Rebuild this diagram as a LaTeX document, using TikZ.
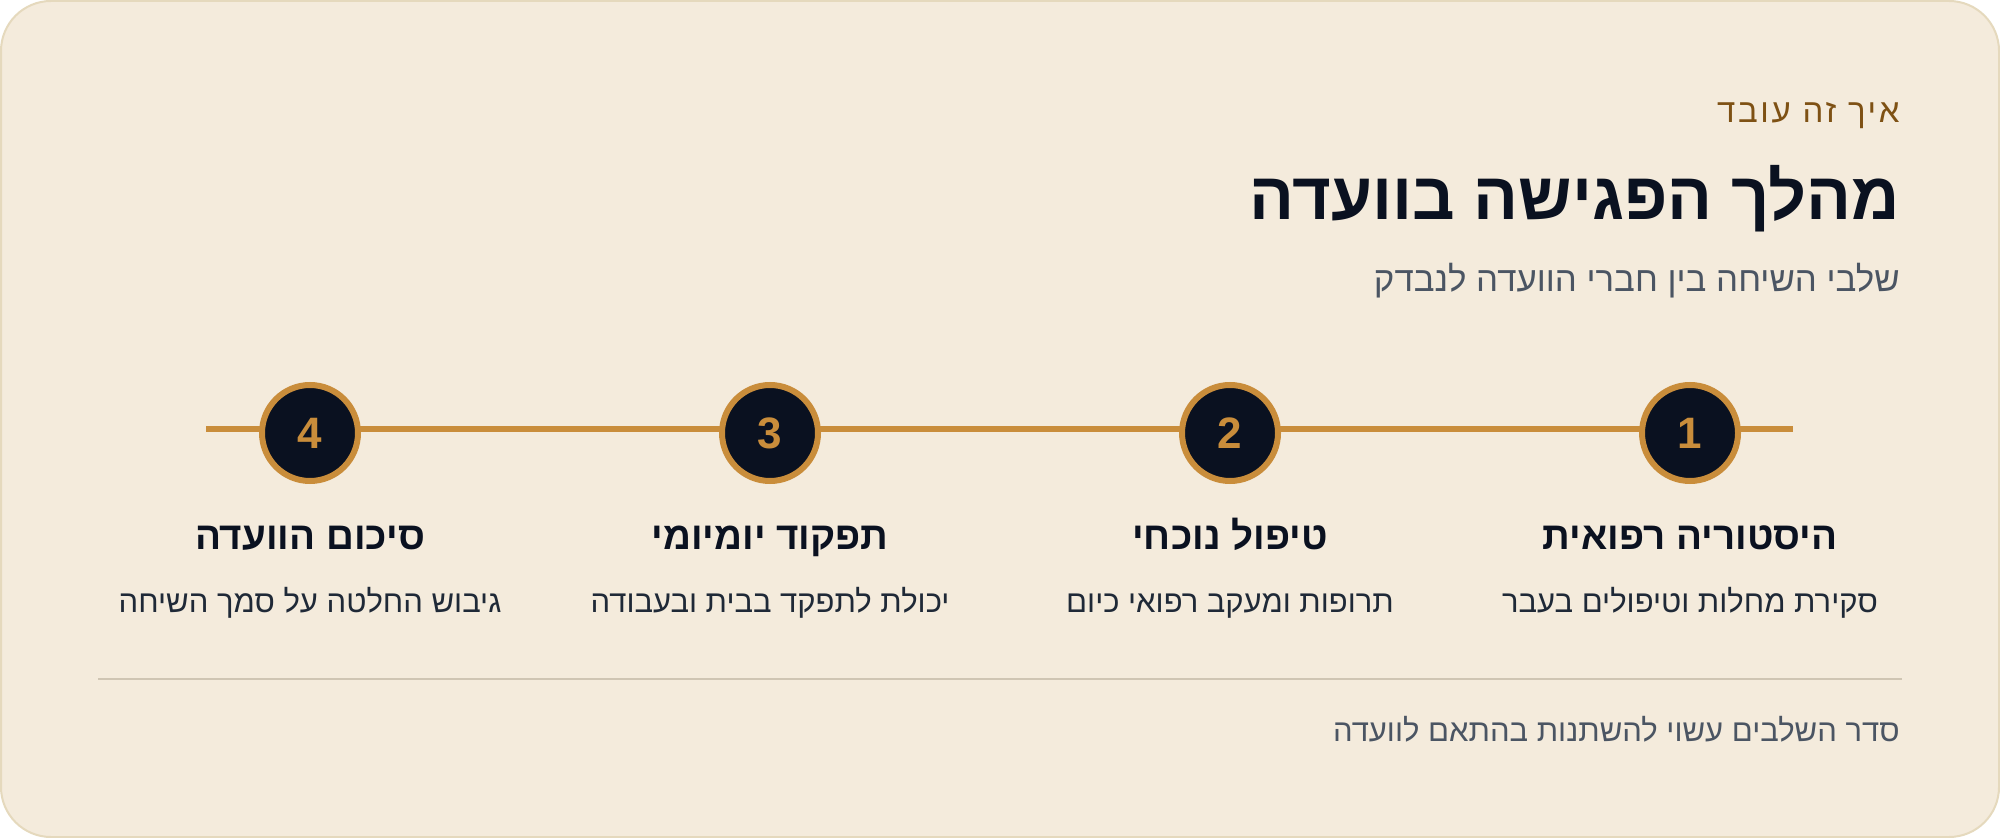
\documentclass[tikz,border=0pt]{standalone}
\usepackage{fontspec}
\setmainfont[Script=Hebrew]{Liberation Sans}
\newfontfamily\hebfont[Script=Hebrew]{Liberation Sans}
\newfontfamily\hebspaced[Script=Hebrew,LetterSpace=8]{Liberation Sans}
\TeXXeTstate=1
\definecolor{cardbg}{HTML}{F4EBDC}
\definecolor{cardline}{HTML}{E5D9BD}
\definecolor{ink}{HTML}{0A1120}
\definecolor{gold}{HTML}{C98D3B}
\definecolor{brown}{HTML}{7E5114}
\definecolor{slate}{HTML}{4B5563}
\definecolor{desc}{HTML}{1F2937}
\definecolor{rule}{HTML}{CFC5B3}
\tikzset{
  card/.style={draw=cardline, line width=1pt, fill=cardbg, rounded corners=25pt},
  kicker/.style={anchor=base east, inner sep=0pt, text=brown, font=\hebspaced\fontsize{16.5}{20}\selectfont},
  headline/.style={anchor=base east, inner sep=0pt, text=ink, font=\hebfont\bfseries\fontsize{33.3}{40}\selectfont},
  subline/.style={anchor=base east, inner sep=0pt, text=slate, font=\hebfont\fontsize{17.4}{21}\selectfont},
  tline/.style={draw=gold, line width=3pt},
  stepdot/.style={circle, draw=gold, line width=3pt, fill=ink, minimum size=48pt, inner sep=0pt, text=gold, font=\hebfont\bfseries\fontsize{22}{26}\selectfont},
  steptitle/.style={anchor=base, inner sep=0pt, text=ink, font=\hebfont\bfseries\fontsize{19.3}{23}\selectfont},
  stepdesc/.style={anchor=base, inner sep=0pt, text=desc, font=\hebfont\fontsize{15.5}{19}\selectfont},
  divider/.style={draw=rule, line width=0.75pt},
  footnote/.style={anchor=base east, inner sep=0pt, text=slate, font=\hebfont\fontsize{15.5}{19}\selectfont},
}
\begin{document}
\begin{tikzpicture}[x=0.5pt,y=-0.5pt]
\useasboundingbox (0,0) rectangle (2000,838);
\fill[white] (0,0) rectangle (2000,838);
\path[card] (1,1) rectangle (1999,837);

\node[kicker] (kick) at (1900,123) {\beginR איך זה עובד\endR};
\node[headline] (head) at (1900,220) {\beginR מהלך הפגישה בוועדה\endR};
\node[subline] (sub) at (1900,292) {\beginR שלבי השיחה בין חברי הוועדה לנבדק\endR};

\coordinate (lineL) at (206,429);
\coordinate (lineR) at (1793,429);
\draw[tline] (lineL) -- (lineR);

\node[stepdot] (c1) at (1690,433) {1};
\node[stepdot] (c2) at (1230,433) {2};
\node[stepdot] (c3) at (770,433) {3};
\node[stepdot] (c4) at (310,433) {4};

\node[steptitle] (t1) at (1690,550) {\beginR היסטוריה רפואית\endR};
\node[steptitle] (t2) at (1230,550) {\beginR טיפול נוכחי\endR};
\node[steptitle] (t3) at (770,550) {\beginR תפקוד יומיומי\endR};
\node[steptitle] (t4) at (310,550) {\beginR סיכום הוועדה\endR};

\node[stepdesc] (d1) at (1690,612) {\beginR סקירת מחלות וטיפולים בעבר\endR};
\node[stepdesc] (d2) at (1230,612) {\beginR תרופות ומעקב רפואי כיום\endR};
\node[stepdesc] (d3) at (770,612) {\beginR יכולת לתפקד בבית ובעבודה\endR};
\node[stepdesc] (d4) at (310,612) {\beginR גיבוש החלטה על סמך השיחה\endR};

\coordinate (ruleL) at (98,679);
\coordinate (ruleR) at (1902,679);
\draw[divider] (ruleL) -- (ruleR);

\node[footnote] (foot) at (1900,741) {\beginR סדר השלבים עשוי להשתנות בהתאם לוועדה\endR};
\end{tikzpicture}
\end{document}
